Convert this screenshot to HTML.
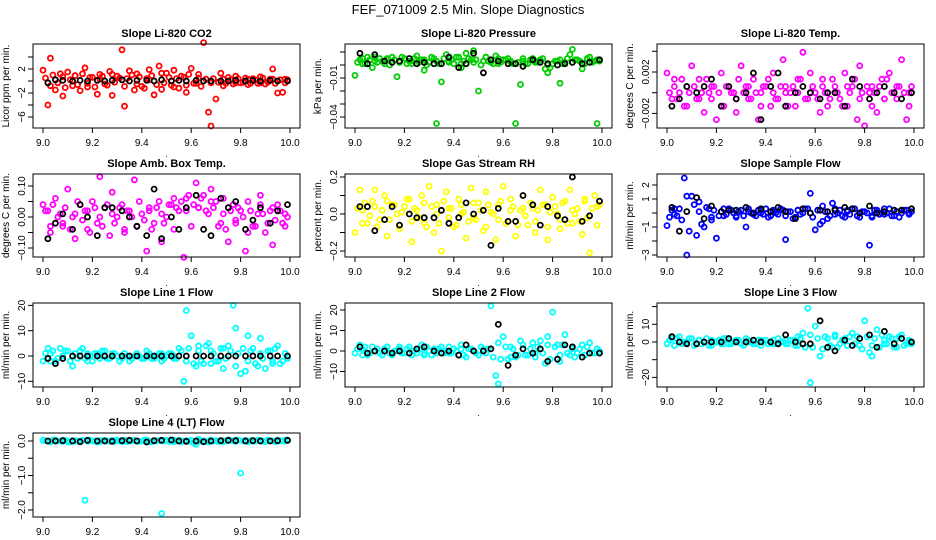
<!DOCTYPE html>
<html><head><meta charset="utf-8">
<style>
html,body{margin:0;padding:0;background:#fff;}
svg{display:block;font-family:"Liberation Sans",sans-serif;}
</style></head>
<body>
<svg id="chart" width="936" height="540" viewBox="0 0 936 540" xmlns="http://www.w3.org/2000/svg">
<rect width="936" height="540" fill="#fff"/>
<text x="468" y="14" text-anchor="middle" font-size="13">FEF_071009  2.5 Min. Slope Diagnostics</text>
</svg>
<script>
const timesColored = [9.00,9.02,9.03,9.05,9.07,9.08,9.10,9.12,9.13,9.15,9.17,9.18,9.20,9.22,9.23,9.25,9.27,9.28,9.30,9.32,9.33,9.35,9.37,9.38,9.40,9.42,9.43,9.45,9.47,9.48,9.50,9.52,9.53,9.55,9.57,9.58,9.60,9.62,9.63,9.65,9.67,9.68,9.70,9.72,9.73,9.75,9.77,9.78,9.80,9.82,9.83,9.85,9.87,9.88,9.90,9.92,9.93,9.95,9.97,9.98];
const timesBand = [9.01,9.03,9.04,9.06,9.08,9.09,9.11,9.13,9.14,9.16,9.18,9.19,9.21,9.23,9.24,9.26,9.28,9.29,9.31,9.33,9.34,9.36,9.38,9.39,9.41,9.43,9.44,9.46,9.48,9.49,9.51,9.53,9.54,9.56,9.58,9.59,9.61,9.63,9.64,9.66,9.68,9.69,9.71,9.73,9.74,9.76,9.78,9.79,9.81,9.83,9.84,9.86,9.88,9.89,9.91,9.93,9.94,9.96,9.98,9.99];
const timesBlack = [9.02,9.05,9.08,9.12,9.15,9.18,9.22,9.25,9.28,9.32,9.35,9.38,9.42,9.45,9.48,9.52,9.55,9.58,9.62,9.65,9.68,9.72,9.75,9.78,9.82,9.85,9.88,9.92,9.95,9.99];
const xTicks = [9.0,9.2,9.4,9.6,9.8,10.0];
const xTickLabels = ["9.0","9.2","9.4","9.6","9.8","10.0"];

const co2Vals = [1.8,-4,3.8,-1.5,1.2,-2.5,1.5,-0.8,0.9,-1.6,2.2,-1,0.6,-2.2,1.1,-0.5,1.6,-2.4,0.8,5.2,-4.2,1.7,-1.5,1.2,-0.9,0.4,1.9,-2.3,2.5,-1.4,1.3,-0.7,1.8,-1.2,0.6,-1.9,2.1,-0.4,1.1,6.4,-5.2,-7.5,-3,1.3,-0.8,0.6,-0.5,0.8,-0.3,0.5,-0.6,0.4,-0.4,0.7,-0.5,0.3,2,-2,-1.9,0.3];
const co2Band = [0.5,-0.8,1.0,-0.3,0.7,-1.1,0.2,0.9,-0.6,1.2,-0.4,0.6,-1.0,0.3,0.8,-0.7,1.1,-0.2,0.5,-0.9,0.4,1.0,-0.5,0.7,-1.2,0.2,0.9,-0.6,1.3,-0.3,0.6,-1.0,0.4,0.8,-0.7,1.1,-0.4,0.5,-0.9,0.3,-0.3,0.4,-0.2,0.3,-0.4,0.2,-0.3,0.4,-0.2,0.3,-0.4,0.2,-0.3,0.5,-0.2,0.3,-0.4,0.2,-0.3,0.2];
const co2Black = [-0.3,0.2,0.1,0,0.1,0,0.1,0,0.1,0.2,0,0.1,0.1,0,0.2,0,0.1,0,0.1,0,0,0,0,0.1,0,0.1,0,0.1,0,0];
const presVals = [-0.008,0.004,0.001,0.006,-0.002,0.003,0.005,0.001,0.004,0.006,-0.009,0.002,0.005,0.003,0.001,0.007,0.004,-0.004,0.002,0.005,-0.045,-0.013,0.008,0.003,0.001,0.006,-0.002,0.009,0.004,0.011,-0.02,0.003,0.006,0.002,0.007,0.001,0.004,0.005,0.002,-0.045,-0.015,0.003,0.001,0.005,0.002,0.004,-0.003,-0.006,0.001,0.003,-0.014,0.002,0.008,0.012,0.004,-0.003,0.001,0.006,0.003,-0.045];
const presBand = [0.002,0.005,0.001,0.004,0.006,0.002,0.003,0.005,0.000,0.004,0.002,0.006,0.001,0.003,0.005,0.002,0.004,0.000,0.006,0.003,0.001,0.005,0.002,0.004,0.006,0.001,0.003,0.005,0.002,0.004,0.000,0.006,0.003,0.001,0.005,0.002,0.004,0.003,0.001,0.002,0.005,0.001,0.004,0.003,0.002,0.005,0.000,-0.002,0.003,0.004,0.001,0.005,0.002,0.004,0.003,0.001,0.005,0.002,0.004,0.003];
const presBlack = [0.009,0.001,0.008,0.003,0.002,0.003,0.005,0.001,0.002,0.001,0.001,0.006,-0.002,0.001,0.009,-0.006,0.004,0.003,0.001,0.001,-0.001,0.004,0.002,0.001,0,0.001,0.002,0.001,0.002,0.004];
const tempVals = [0.0019,-0.0006,0.0013,0,-0.0013,0.0006,0.0026,-0.0006,0.0013,-0.0019,0,0.0006,-0.0026,0.0019,-0.0013,0.0006,0,-0.0019,0.0026,0.0006,-0.0006,0.0013,-0.0026,0,0.0006,-0.0013,0.0019,-0.0006,0.0032,0.0006,0,-0.0013,0.0013,0.0039,-0.0006,0.0019,0,-0.0019,0.0006,-0.0013,0.0013,0,-0.0006,0.0019,-0.0013,0.0006,-0.0026,0.0026,-0.0032,0,0.0006,-0.0019,0.0013,-0.0006,0.0019,0,0.0006,0.0032,-0.0026,0];
const tempBand = [0,0.0006,-0.0006,0.0013,-0.0013,0,0.0006,-0.0006,0,0.0013,-0.0006,0.0006,0,-0.0013,0.0006,0,-0.0006,0.0013,0,0.0006,-0.0006,0,-0.0013,0.0006,0.0013,0,-0.0006,0.0006,0,-0.0013,0.0006,0,0.0013,-0.0006,0,0.0006,-0.0006,0.0013,0,-0.0006,0.0006,0,-0.0013,0.0006,0,0.0013,-0.0006,0,0.0006,-0.0013,0,0.0006,-0.0006,0.0013,0,-0.0006,0.0006,0,-0.0013,0.0006];
const tempBlack = [-0.0013,-0.0006,0.0006,0,0.0006,0.0013,-0.0013,0.0006,-0.0006,0,0.0019,-0.0026,0.0006,0.0019,-0.0013,0,0.0006,0,-0.0006,0,0,-0.0013,0.0013,0.0006,-0.0006,0,0.0006,0,-0.0006,0];
const ambVals = [0.04,0.02,-0.05,0.06,0.01,-0.03,0.09,0.00,-0.07,0.04,0.02,-0.04,0.05,-0.02,0.13,0.03,-0.06,0.08,0.00,0.04,-0.05,0.02,0.12,-0.03,0.01,-0.11,0.03,-0.02,0.05,-0.08,0.00,0.04,-0.04,0.02,-0.13,0.06,-0.03,0.11,0.03,0.07,0.01,0.09,0.05,-0.02,0.06,-0.08,0.04,-0.01,0.02,-0.11,0.05,-0.03,0.01,0.07,-0.05,0.02,-0.09,0.04,-0.02,0.01];
const ambBand = [0.02,-0.03,0.04,0.00,-0.02,0.03,-0.04,0.01,0.05,-0.01,0.02,-0.05,0.03,0.00,-0.03,0.04,0.01,-0.02,0.03,-0.04,0.02,0.00,-0.03,0.05,-0.01,0.02,-0.04,0.03,0.01,-0.02,0.04,0.06,0.03,0.05,0.02,0.07,0.04,0.03,0.06,0.02,0.05,0.03,-0.03,0.01,-0.04,0.02,-0.02,0.03,0.00,-0.05,0.02,-0.03,0.04,0.01,-0.02,0.03,-0.01,0.02,-0.03,0.00];
const ambBlack = [-0.07,-0.02,0.01,-0.04,0.04,0.00,-0.06,0.03,0.03,0.02,0.00,-0.03,-0.06,0.09,-0.07,0.00,-0.04,0.03,0.07,-0.04,-0.06,0.06,0.03,0.05,-0.04,-0.01,0.03,-0.02,0.02,0.04];
const rhVals = [-0.1,0.13,0.02,-0.05,0.07,0.13,-0.03,0.1,-0.12,0.05,0,-0.08,0.04,0.08,-0.15,0.02,0.1,-0.05,0.15,-0.1,0.05,-0.2,0.12,0.03,-0.07,0.08,0,-0.13,0.14,-0.02,0.06,-0.09,0.12,0.01,-0.14,0.05,0.15,-0.04,0.08,-0.12,0.02,0.1,-0.06,0.03,-0.1,0.13,0.05,-0.14,0.09,0,-0.08,0.07,0.13,-0.05,0.03,-0.11,0.08,-0.21,0.1,0.04];
const rhBand = [0.03,-0.05,0.06,-0.01,0.04,-0.07,0.02,0.07,-0.03,0.05,-0.06,0.01,0.08,-0.04,0.03,-0.02,0.06,-0.07,0.04,0.00,-0.05,0.07,-0.02,0.03,-0.06,0.05,0.01,-0.04,0.06,-0.03,0.02,-0.07,0.05,0.00,-0.03,0.07,-0.05,0.02,0.04,-0.06,0.03,-0.01,0.06,-0.04,0.02,0.05,-0.07,0.01,0.04,-0.03,0.06,-0.05,0.02,0.00,-0.04,0.07,-0.02,0.03,-0.06,0.05];
const rhBlack = [0.04,0.04,-0.09,-0.03,0.04,-0.06,0.0,-0.02,-0.02,-0.02,0.02,-0.05,-0.02,0.06,0.0,0.02,-0.17,0.03,-0.04,-0.04,0.1,0.05,-0.06,0.04,-0.01,-0.03,0.2,-0.04,-0.01,0.07];
const sampleVals = [-0.9,0.2,-0.1,0.3,2.5,-3,1.2,-1.6,0.8,-1,0.3,-0.5,-1.8,0.1,-0.2,0.3,0,-0.2,0.2,-1,0.1,-0.1,0.2,0,0.3,-0.2,0.1,-0.1,0.2,-1.9,0.1,-0.3,0.2,0,0.3,1.4,-1.2,-0.8,0.5,-0.4,0.7,-0.1,0.2,-0.3,0.1,0.3,-0.2,0,0.1,-2.3,-0.3,0.2,0,-0.1,0.3,-0.2,0.1,0,0.2,-0.1];
const sampleBand = [-0.3,0.3,-0.2,-0.5,1.2,-1.3,0.6,0.1,-0.8,0.4,-0.3,0.2,-0.2,0.3,-0.1,0.2,-0.3,0.1,-0.2,0.3,0,-0.2,0.2,-0.1,-0.3,0.2,0,0.3,-0.2,0.1,-0.4,0.2,-0.1,0.3,0,-0.3,0.2,-0.6,0.1,-0.2,0.3,0,-0.2,0.2,-0.1,0.3,-0.3,0.1,0,-0.2,0.2,-0.1,0.3,0,-0.2,0.1,-0.3,0.2,0,0.1];
const sampleBlack = [0.4,-1.3,0.1,1.1,-0.4,0.5,0.1,0.2,0.2,0.4,0.0,0.3,0.1,0.4,0.1,-0.4,0.3,0.0,0.2,0.1,0.2,0.4,0.3,0.0,0.5,0.0,0.1,0.2,0.2,0.3];
const line1Vals = [-2,3,1,-2,3,0,2,-4,1,2,-1,1,-2,1,0,2,-1,1,0,-1,1,-2,0,1,-1,2,0,-1,1,-2,0,1,-1,3,-10,18,8,-4,4,-3,5,2,-2,3,-5,4,20,11,-7,-6,8,3,-4,7,-5,2,-3,4,-2,1];
const line1Band = [1,-2,2,-1,0,2,-2,1,-1,3,-2,0,1,-1,2,-1,0,1,-2,1,0,-1,1,0,-1,1,-1,0,1,-1,1,0,-1,2,-2,3,-3,2,-2,4,-3,1,-2,3,-1,2,-4,1,3,-2,2,-3,1,-1,2,-2,3,-3,1,-1];
const line1Black = [-1,-3,-1,0,0,0,0,0,0,0,0,0,0,0,0,0,0,0,0,0,0,0,0,0,0,0,0,0,0,0];
const line2Vals = [-1,3,1,-2,2,0,-1,1,2,-2,0,1,-1,2,0,-1,3,-2,0,1,-1,2,0,-1,1,-2,3,-3,1,0,-2,1,-1,22,-12,-16,7,-4,2,-3,5,1,-2,4,-1,5,-6,7,19,3,-5,8,-2,1,-1,3,-2,4,-1,1];
const line2Band = [1,-2,2,-1,0,1,-2,2,-1,0,2,-1,1,-2,0,1,-1,2,-2,0,1,-1,2,-1,0,1,-2,1,0,-1,2,-1,1,-3,4,-4,2,-3,1,-2,3,-2,1,-3,2,-1,3,-4,2,-2,3,-1,2,-3,1,-2,2,-1,1,0];
const line2Black = [2,-1,0,0,-1,0,-1,1,2,0,-1,0,-2,3,0,0,1,13,-7,-2,1,-1,1,-5,-4,3,2,-3,-1,-1];
const line3Vals = [-1,2,-2,3,0,-1,2,-1,1,0,-2,1,0,-1,2,-1,0,1,-1,2,0,-1,1,-2,1,0,-1,2,0,-1,1,-2,3,5,19,-23,9,-8,-4,2,-3,4,-1,2,-2,5,3,-2,12,-6,-8,7,4,-1,3,-3,2,4,-1,0];
const line3Band = [1,-2,2,-1,0,2,-2,1,-1,2,-2,0,1,-1,2,-1,0,1,-2,1,0,-1,1,0,-1,1,-1,0,1,-1,1,-2,2,-3,4,-3,2,-4,3,-2,3,-3,1,-2,3,-1,2,-4,3,-2,2,-3,1,-1,2,-3,3,-2,1,-1];
const line3Black = [3,0,-1,-1,0,0,0,2,0,0,1,0,0,-1,4,0,-1,-1,12,-3,-5,1,-2,2,4,-3,6,-1,2,0];
const line4Vals = [0.02,0,-0.03,0.03,0,0.02,-0.02,0.01,0,-0.01,-1.72,0.02,0,-0.03,0.01,0.02,-0.01,0,0.03,-0.02,0.01,0,0.02,-0.01,0,0.03,-0.02,0,0.01,-2.1,0.02,0,-0.02,0.03,0,-0.01,0.02,-0.1,0.05,0,-0.03,0.02,0.01,0,-0.02,0.03,0,0.01,-0.93,0.02,0,-0.01,0.03,0,-0.02,0.01,0,0.02,0,0.03];
const line4Band = [0.01,-0.02,0.03,0,-0.01,0.02,-0.03,0.01,0,0.02,-0.01,0.03,0,-0.02,0.01,0,0.02,-0.01,0,0.03,-0.02,0.01,0,-0.01,0.02,0,-0.03,0.01,0.02,0,-0.01,0.03,0,-0.02,0.01,0,-0.06,0.02,0,-0.01,0.03,0,-0.02,0.01,0,0.02,-0.01,0.03,0,-0.02,0.01,0,0.02,-0.01,0.03,0,-0.02,0.01,0,0.02];
const line4Black = [0,0,0.01,0,-0.02,0.02,0,0,-0.01,0.01,0.02,0,-0.03,0.01,0.02,0.03,0,-0.01,0,-0.02,0,0.01,0.02,0.01,0,0.01,0,0,0.01,0.02];

const NS = "http://www.w3.org/2000/svg";
const svg = document.getElementById('chart');
const colL = [33,345,657], colR = [300,612,924], colX0 = [43,355,667];
const rowT = [44,174,303,433], rowB = [128,257,387,517];
const XPX = 247;

const panels = [
 {name:'co2',title:'Slope Li-820 CO2',ylab:'Licor ppm per min.',r:0,c:0,color:'#ff0000',vals:co2Vals,band:co2Band,blk:co2Black,a:[0,81],b:[2,69],ticks:[4,2,0,-2,-4,-6],labels:{'2':'2','-2':'\u22122','-6':'\u22126'}},
 {name:'pressure',title:'Slope Li-820 Pressure',ylab:'kPa per min.',r:0,c:1,color:'#00cd00',vals:presVals,band:presBand,blk:presBlack,a:[0,65],b:[-0.01,78],ticks:[0.01,0,-0.01,-0.02,-0.03,-0.04],labels:{'-0.01':'\u22120.01','-0.04':'\u22120.04'}},
 {name:'temp',title:'Slope Li-820 Temp.',ylab:'degrees C per min.',r:0,c:2,color:'#ff00ff',vals:tempVals,band:tempBand,blk:tempBlack,a:[0,92.7],b:[0.002,72],ticks:[0.004,0.002,0,-0.002],labels:{'0.002':'0.002','-0.002':'\u22120.002'}},
 {name:'amb-box-temp',title:'Slope Amb. Box Temp.',ylab:'degrees C per min.',r:1,c:0,color:'#ff00ff',vals:ambVals,band:ambBand,blk:ambBlack,a:[0,217],b:[0.1,186],ticks:[0.1,0.05,0,-0.05,-0.1],labels:{'0.1':'0.10','0':'0.00','-0.1':'\u22120.10'}},
 {name:'gas-stream-rh',title:'Slope Gas Stream RH',ylab:'percent per min.',r:1,c:1,color:'#ffff00',vals:rhVals,band:rhBand,blk:rhBlack,a:[0,214],b:[0.2,177],ticks:[0.2,0.1,0,-0.1,-0.2],labels:{'0.2':'0.2','0':'0.0','-0.2':'\u22120.2'}},
 {name:'sample-flow',title:'Slope Sample Flow',ylab:'ml/min per min.',r:1,c:2,color:'#0000ff',vals:sampleVals,band:sampleBand,blk:sampleBlack,a:[0,213],b:[1,199],ticks:[2,1,0,-1,-2,-3],labels:{'2':'2','1':'1','-1':'\u22121','-3':'\u22123'}},
 {name:'line1-flow',title:'Slope Line 1 Flow',ylab:'ml/min per min.',r:2,c:0,color:'#00ffff',vals:line1Vals,band:line1Band,blk:line1Black,a:[0,356],b:[10,330.7],ticks:[20,10,0,-10],labels:{'20':'20','10':'10','0':'0','-10':'\u221210'}},
 {name:'line2-flow',title:'Slope Line 2 Flow',ylab:'ml/min per min.',r:2,c:1,color:'#00ffff',vals:line2Vals,band:line2Band,blk:line2Black,a:[0,351],b:[10,330.5],ticks:[20,10,0,-10],labels:{'20':'20','10':'10','0':'0','-10':'\u221210'}},
 {name:'line3-flow',title:'Slope Line 3 Flow',ylab:'ml/min per min.',r:2,c:2,color:'#00ffff',vals:line3Vals,band:line3Band,blk:line3Black,a:[0,342],b:[10,324.3],ticks:[20,10,0,-10,-20],labels:{'10':'10','0':'0','-20':'\u221220'}},
 {name:'line4-flow',title:'Slope Line 4 (LT) Flow',ylab:'ml/min per min.',r:3,c:0,color:'#00ffff',vals:line4Vals,band:line4Band,blk:line4Black,a:[0,441],b:[-1,475.5],ticks:[0,-0.5,-1,-1.5,-2],labels:{'0':'0.0','-1':'\u22121.0','-2':'\u22122.0'}}
];

function mk(tag, attrs, parent){
  const e = document.createElementNS(NS, tag);
  for (const k in attrs) e.setAttribute(k, attrs[k]);
  (parent||svg).appendChild(e);
  return e;
}

panels.forEach(p => {
  const L = colL[p.c], R = colR[p.c], T = rowT[p.r], B = rowB[p.r];
  const xS = v => colX0[p.c] + (v - 9) * XPX;
  const k = (p.b[1] - p.a[1]) / (p.b[0] - p.a[0]);
  const yS = v => p.a[1] + (v - p.a[0]) * k;
  const g = mk('g', {});
  
  

  const t = mk('text', {x:(L+R)/2, y:T-7, 'text-anchor':'middle','font-size':'11','font-weight':'bold'}, g);
  t.textContent = p.title;
  
  

  const pts = mk('g', {fill:'none','stroke-width':'1.8'}, g);
  
  
  p.band.forEach((v,i) => {
    const c = mk('circle', {cx:xS(timesBand[i]).toFixed(1), cy:yS(v).toFixed(1), r:'2.5', stroke:p.color}, pts);
    
    
  });
  p.vals.forEach((v,i) => {
    const c = mk('circle', {cx:xS(timesColored[i]).toFixed(1), cy:yS(v).toFixed(1), r:'2.5', stroke:p.color}, pts);
    
    
  });
  p.blk.forEach((v,i) => {
    const c = mk('circle', {cx:xS(timesBlack[i]).toFixed(1), cy:yS(v).toFixed(1), r:'2.5', stroke:'#000'}, pts);
    
    
  });

  const box = mk('rect', {x:L, y:T, width:R-L, height:B-T, fill:'none', stroke:'#000','stroke-width':'1'}, g);
  
  

  const xa = mk('g', {}, g);
  
  
  xTicks.forEach((v,i) => {
    const x = xS(v);
    mk('line', {x1:x, x2:x, y1:B, y2:B+5, stroke:'#000'}, xa);
    const tl = mk('text', {x:x, y:B+18, 'text-anchor':'middle','font-size':'10'}, xa);
    tl.textContent = xTickLabels[i];
    
    
  });
  const dot = mk('text', {x:(L+R)/2, y:B+29, 'text-anchor':'middle','font-size':'9'}, xa);
  dot.textContent = '.';

  const ya = mk('g', {}, g);
  
  
  p.ticks.forEach(v => {
    const y = yS(v);
    mk('line', {x1:L-5, x2:L, y1:y, y2:y, stroke:'#000'}, ya);
    const key = String(v);
    if (p.labels[key] !== undefined) {
      const tl = mk('text', {x:0, y:0, 'text-anchor':'middle','font-size':'10', transform:`translate(${L-8},${y}) rotate(-90)`}, ya);
      tl.textContent = p.labels[key];
      
      
    }
  });
  const yt = mk('text', {x:0, y:0, 'text-anchor':'middle','font-size':'10', transform:`translate(${L-24},${(T+B)/2}) rotate(-90)`}, g);
  yt.textContent = p.ylab;
  
  
});
</script>
</body></html>
